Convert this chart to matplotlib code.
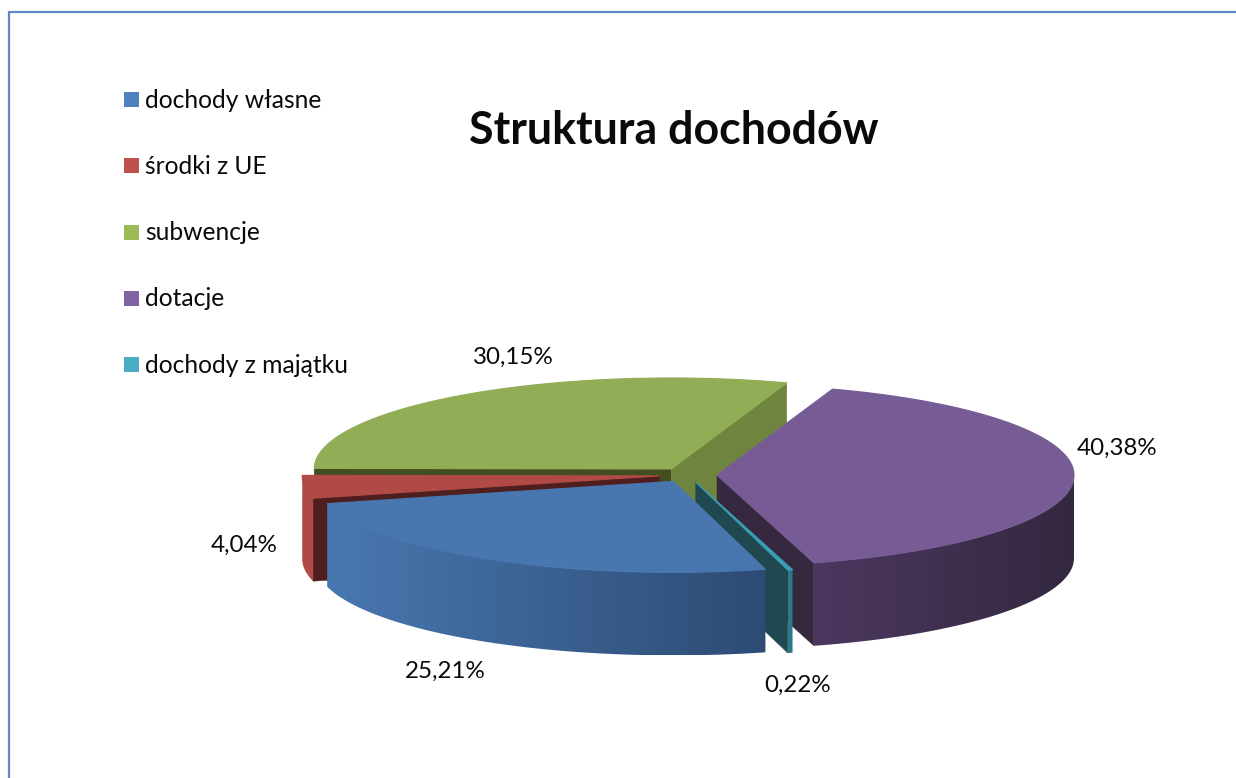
import numpy as np
import matplotlib
matplotlib.use("Agg")
import matplotlib.pyplot as plt
from matplotlib.patches import Polygon, Rectangle
from matplotlib.colors import LinearSegmentedColormap

plt.rcParams['font.family'] = ['Lato', 'DejaVu Sans']

title = 'Struktura dochodów'
categories = ['dochody własne', 'środki z UE', 'subwencje', 'dotacje', 'dochody z majątku']
values = [25.21, 4.04, 30.15, 40.38, 0.22]
value_labels = ['25,21%', '4,04%', '30,15%', '40,38%', '0,22%']
legend_colors = ['#4f81bd', '#c0504d', '#9bbb59', '#8064a2', '#4bacc6']
top_colors = ['#4877b0', '#b14a46', '#91ad55', '#775b94', '#3a9fb5']
cut_colors = ['#2f4d77', '#4f1f1f', '#6f853f', '#35283f', '#1f4850']
start_cut_colors = ['#2f4d77', '#4f1f1f', '#414f20', '#35283f', '#1f4850']
wall_left = ['#4878b0', '#b14a46', '#6f853f', '#4c3860', '#2a7a8a']
wall_right = ['#2d4b74', '#b14a46', '#6f853f', '#33283f', '#2a7a8a']

# pie geometry in image pixels
cx, cy = 688, 475
rx, ry = 357, 91
depth = 83
explode = 29
start_angle = 165.05

# back to front
draw_order = [2, 3, 1, 4, 0]
label_pos = [(445, 671), (244, 545), (513, 357), (1117, 448), (798, 685)]

fig = plt.figure(figsize=(12.36, 7.78), dpi=100)
ax = fig.add_axes([0, 0, 1, 1])
ax.axis('off')


def project(theta, x0, y0):
    t = np.radians(theta)
    return x0 + rx * np.sin(t), y0 - ry * np.cos(t)


def draw_poly(xs, ys, color, z, lw=0.3):
    ax.add_patch(Polygon(np.column_stack([xs, ys]), closed=True, facecolor=color,
                         edgecolor=color, linewidth=lw, zorder=z))


def draw_wall(t0, t1, x0, y0, c0, c1, z):
    th = np.linspace(t0, t1, 80)
    xs, ys = project(th, x0, y0)
    px = np.concatenate([xs, xs[::-1]])
    py = np.concatenate([ys, ys[::-1] + depth])
    clip = Polygon(np.column_stack([px, py]), closed=True, transform=ax.transData,
                   facecolor='none', edgecolor='none')
    ax.add_patch(clip)
    cmap = LinearSegmentedColormap.from_list('wall', [c0, c1])
    grad = np.linspace(0, 1, 256).reshape(1, -1)
    im = ax.imshow(grad, extent=[px.min(), px.max(), py.max(), py.min()], aspect='auto',
                   cmap=cmap, zorder=z, interpolation='bilinear')
    im.set_clip_path(clip)


angles = np.cumsum([0] + values) / 100 * 360 + start_angle
z = 1
for i in draw_order:
    t0, t1 = angles[i], angles[i + 1]
    mid = np.radians((t0 + t1) / 2)
    x0 = cx + explode * np.sin(mid)
    y0 = cy - explode * ry / rx * np.cos(mid)

    # flat faces on the cuts, only those turned to the viewer
    if np.sin(np.radians(t0)) < 0:
        ex, ey = project(t0, x0, y0)
        draw_poly([x0, ex, ex, x0], [y0, ey, ey + depth, y0 + depth], start_cut_colors[i], z)
        z += 1
    if np.sin(np.radians(t1)) > 0:
        ex, ey = project(t1, x0, y0)
        draw_poly([x0, ex, ex, x0], [y0, ey, ey + depth, y0 + depth], cut_colors[i], z)
        z += 1

    # outer wall on the front half
    for k in range(-1, 3):
        a0, a1 = max(t0, 90 + 360 * k), min(t1, 270 + 360 * k)
        if a1 > a0:
            draw_wall(a0, a1, x0, y0, wall_left[i], wall_right[i], z)
            z += 1

    th = np.linspace(t0, t1, 160)
    xs, ys = project(th, x0, y0)
    draw_poly(np.r_[x0, xs], np.r_[y0, ys], top_colors[i], z, lw=0.8)
    z += 1

    lx, ly = label_pos[i]
    ax.text(lx, ly, value_labels[i], fontsize=17.4, color='#0a0a0a',
            ha='center', va='center', zorder=100)

# legend
for i, name in enumerate(categories):
    ly = 99.5 + i * 66.3
    ax.add_patch(Rectangle((124, ly - 7.5), 15, 15, facecolor=legend_colors[i], edgecolor='none', zorder=100))
    ax.text(145, ly + 0.5, name, fontsize=17.7, color='#0a0a0a', ha='left', va='center', zorder=100)

ax.text(673.5, 130.5, title, fontsize=32.2, fontweight='bold', color='#0a0a0a',
        ha='center', va='center', zorder=100)

# frame of the chart area, runs off the right and bottom
ax.plot([9, 9, 1236], [778, 12, 12], color='#5f8ac6', linewidth=1.6, zorder=100,
        solid_joinstyle='miter')

ax.set_xlim(0, 1236)
ax.set_ylim(778, 0)
fig.savefig('out.png', dpi=100, facecolor='white')
